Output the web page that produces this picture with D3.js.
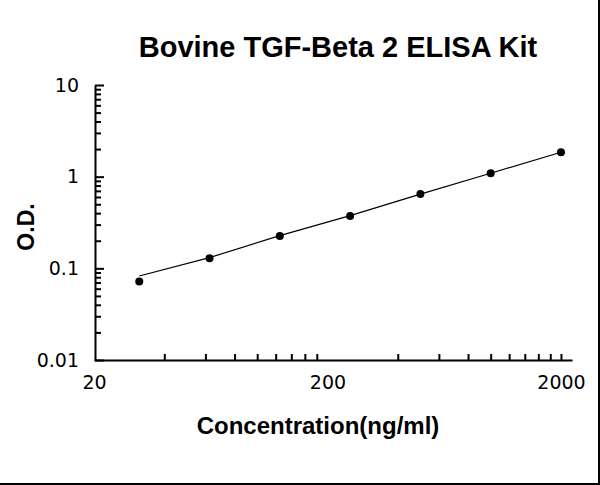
<!DOCTYPE html>
<html>
    <head>
        <meta charset="utf-8">
        <style>
            body { margin: 0; background: #fff; }
            svg { display: block; }
        </style>
    </head>
    <body>
        <svg width="600" height="485"></svg>
        <script src="https://d3js.org/d3.v7.min.js"></script>
        <script>
            // standard curve readings
            let concentration = [31.25, 62.5, 125, 250, 500, 1000, 2000];
            let od = [0.072, 0.129, 0.225, 0.372, 0.647, 1.089, 1.845];
            let fitOD = [0.0825, 0.131, 0.227, 0.376, 0.645, 1.09, 1.845];
            let xTickLabels = [20, 200, 2000];
            let yTickLabels = [0.01, 0.1, 1, 10];

            let svg = d3.select("svg");
            svg.append("rect").attr("width", 600).attr("height", 485).attr("fill", "#fff");

            let x = d3.scaleLog().domain([20, 2230]).range([94, 572]);
            let y = d3.scaleLog().domain([0.01, 10]).range([360, 85]);

            // minor ticks: 2..9 times each decade
            let xMinor = [];
            [20, 200].forEach(function(b) {
                d3.range(2, 10).forEach(k => xMinor.push(b * k));
            });
            xMinor.push(2000);
            let yMinor = [];
            [0.01, 0.1, 1].forEach(function(b) {
                d3.range(2, 10).forEach(k => yMinor.push(+(b * k).toPrecision(3)));
            });

            let font = "'DejaVu Sans', sans-serif";
            let boldFont = "'Liberation Sans', Arial, sans-serif";

            // x axis
            let gx = svg.append("g").attr("transform", "translate(0,360)");
            gx.call(d3.axisBottom(x).tickValues(xMinor).tickSizeInner(-6).tickSizeOuter(0).tickFormat(""));
            gx.select(".domain").attr("stroke-width", 2);
            gx.selectAll(".tick line").attr("stroke-width", 2);
            let gxl = svg.append("g").attr("transform", "translate(0,360)");
            gxl.call(d3.axisBottom(x).tickValues(xTickLabels).tickSize(0).tickPadding(16).tickFormat(d3.format("d")));
            gxl.select(".domain").remove();
            gxl.selectAll("text").attr("font-family", font).attr("font-size", 19).attr("fill", "#000");

            // y axis
            let gy = svg.append("g").attr("transform", "translate(95,0)");
            gy.call(d3.axisLeft(y).tickValues(yMinor).tickSizeInner(-6).tickSizeOuter(0).tickFormat(""));
            gy.select(".domain").attr("stroke-width", 2);
            gy.selectAll(".tick line").attr("stroke-width", 2);
            let gyl = svg.append("g").attr("transform", "translate(95,0)");
            gyl.call(d3.axisLeft(y).tickValues(yTickLabels).tickSizeInner(-9).tickSizeOuter(0).tickPadding(16).tickFormat(d => String(d)));
            gyl.select(".domain").remove();
            gyl.selectAll(".tick line").attr("stroke-width", 2);
            gyl.selectAll("text").attr("font-family", font).attr("font-size", 19).attr("fill", "#000");

            // fitted line
            let line = d3.line().x((d, i) => x(concentration[i])).y(d => y(d));
            svg.append("path").datum(fitOD)
                .attr("d", line)
                .attr("fill", "none")
                .attr("stroke", "#000")
                .attr("stroke-width", 1.2);

            // points
            svg.selectAll("circle.pt").data(od).enter()
                .append("circle")
                .attr("class", "pt")
                .attr("cx", (d, i) => x(concentration[i]))
                .attr("cy", d => y(d))
                .attr("r", 4)
                .attr("fill", "#000");

            // titles
            svg.append("text")
                .attr("x", 338).attr("y", 57)
                .attr("text-anchor", "middle")
                .attr("font-family", boldFont)
                .attr("font-weight", "bold")
                .attr("font-size", 29)
                .text("Bovine TGF-Beta 2 ELISA Kit");
            svg.append("text")
                .attr("x", 318).attr("y", 434)
                .attr("text-anchor", "middle")
                .attr("font-family", boldFont)
                .attr("font-weight", "bold")
                .attr("font-size", 24)
                .text("Concentration(ng/ml)");
            svg.append("text")
                .attr("transform", "translate(34,227) rotate(-90)")
                .attr("text-anchor", "middle")
                .attr("font-family", boldFont)
                .attr("font-weight", "bold")
                .attr("font-size", 23)
                .text("O.D.");

            // frame edges on right and bottom
            svg.append("line").attr("x1", 599).attr("x2", 599).attr("y1", 0).attr("y2", 485)
                .attr("stroke", "#000").attr("stroke-width", 2);
            svg.append("line").attr("x1", 0).attr("x2", 600).attr("y1", 484).attr("y2", 484)
                .attr("stroke", "#000").attr("stroke-width", 2);
        </script>
    </body>
</html>
